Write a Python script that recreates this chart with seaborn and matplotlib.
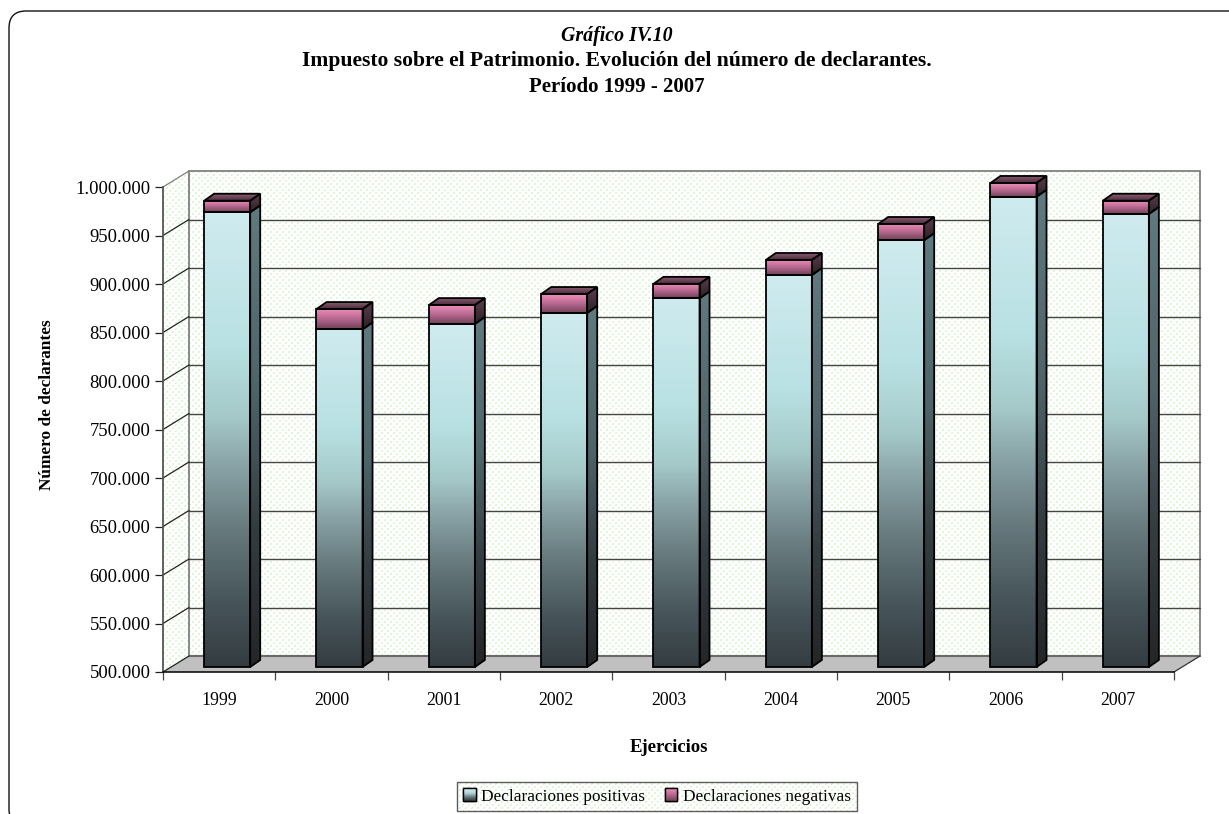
import numpy as np
import pandas as pd
import seaborn as sns
import matplotlib
matplotlib.use("Agg")
import matplotlib.pyplot as plt
from matplotlib.colors import LinearSegmentedColormap as LSC
from matplotlib.patches import FancyBboxPatch, Polygon, Patch
from matplotlib.transforms import Affine2D, IdentityTransform

titulo = "Gráfico IV.10"
subtitulo = "Impuesto sobre el Patrimonio. Evolución del número de declarantes."
periodo = "Período 1999 - 2007"
ejercicios = ["1999", "2000", "2001", "2002", "2003", "2004", "2005", "2006", "2007"]
positivas = [968700, 848000, 853600, 865000, 880000, 904000, 940000, 984800, 967000]
negativas = [12000, 21000, 19500, 19500, 15000, 15600, 16700, 14200, 13700]
y_ticks = [500000, 550000, 600000, 650000, 700000, 750000, 800000, 850000, 900000, 950000, 1000000]
y_labels = ["500.000", "550.000", "600.000", "650.000", "700.000", "750.000", "800.000",
            "850.000", "900.000", "950.000", "1.000.000"]
base = 500000

W, H = 1229, 814
sns.set_theme(style="ticks")
plt.rcParams["font.family"] = ["Liberation Serif", "DejaVu Serif"]
fig = plt.figure(figsize=(W / 100, H / 100), dpi=100, facecolor="white")
L, R, T, B = 163, 1174, 187, 672
ax = fig.add_axes([L / W, (H - B) / H, (R - L) / W, (B - T) / H])
ax.patch.set_visible(False)

df = pd.DataFrame({"ejercicio": ejercicios, "pos": positivas, "neg": negativas})
df["alto"] = df["pos"] - base

WALL = (26, 16)      # fondo respecto al plano frontal (px)
FRONT = (8, 5)       # cara frontal de la barra
DEPTH = (10, 7)      # profundidad de la barra
EDGE = 1.3

def shifted(d):
    return ax.transData + Affine2D().translate(*d)

def clip_to(im, verts):
    im.set_clip_box(fig.bbox)
    im.set_clip_path(Polygon(verts, closed=True, transform=IdentityTransform()))
    return im

def gradient_poly(verts, cmap, z):
    verts = np.asarray(verts, float)
    x0, y0 = verts.min(0)
    x1, y1 = verts.max(0)
    g = np.linspace(0, 1, 256).reshape(-1, 1)
    im = ax.imshow(g, extent=[x0, x1, y0, y1], origin="lower", cmap=cmap, vmin=0, vmax=1,
                   aspect="auto", transform=IdentityTransform(), zorder=z, interpolation="bilinear")
    return clip_to(im, verts)

def texture_poly(verts, z):
    verts = np.asarray(verts, float)
    x0, y0 = np.floor(verts.min(0))
    x1, y1 = np.ceil(verts.max(0))
    tile = np.ones((6, 6, 3))
    soft = (0.93, 0.98, 0.91)
    dot = (0.83, 0.95, 0.79)
    for (r, c) in [(0, 0), (3, 3)]:
        tile[r, c] = dot
        tile[(r + 1) % 6, c] = soft
        tile[r, (c + 1) % 6] = soft
        tile[(r + 1) % 6, (c + 1) % 6] = dot
    nx, ny = int(x1 - x0), int(y1 - y0)
    tx = np.tile(tile, (ny // 6 + 1, nx // 6 + 1, 1))[:ny, :nx]
    im = ax.imshow(tx, extent=[x0, x1, y0, y1], origin="lower", aspect="auto",
                   transform=IdentityTransform(), zorder=z, interpolation="nearest")
    return clip_to(im, verts)

face_pos = LSC.from_list("fp", [(0, "#343c41"), (.14, "#465459"), (.3, "#66797d"), (.45, "#8ba5a8"),
                                (.55, "#a5c9c9"), (.7, "#b8e0e2"), (1, "#cfebf0")])
side_pos = LSC.from_list("sp", [(0, "#242627"), (.3, "#333d40"), (.6, "#4e6468"), (1, "#5f7a80")])
face_neg = LSC.from_list("fn", [(0, "#6f4258"), (.5, "#b8688f"), (1, "#f090bc")])
side_neg = LSC.from_list("sn", [(0, "#2c2026"), (1, "#5c3f4e")])
top_neg = LSC.from_list("tn", [(0, "#4a2f3c"), (1, "#8a5870")])

# Marcas: barras apiladas dibujadas por seaborn
sns.barplot(data=df, x="ejercicio", y="alto", bottom=base, width=0.41, color="black", fill=False,
            linewidth=EDGE, errorbar=None, ax=ax, zorder=6)
n_pos = len(ax.patches)
sns.barplot(data=df, x="ejercicio", y="neg", bottom=df["pos"].to_numpy(), width=0.41, color="black",
            fill=False, linewidth=EDGE, errorbar=None, ax=ax, zorder=6)
ax.set_xlim(-0.5, 8.5)
ax.set_ylim(500000, 1000000)

def px(x, y, d=(0, 0)):
    p = ax.transData.transform((x, y))
    return (p[0] + d[0], p[1] + d[1])

# Paredes y suelo
xa, xb = -0.5, 8.5
back = [px(xa, base, WALL), px(xb, base, WALL), px(xb, 1e6, WALL), px(xa, 1e6, WALL)]
side = [px(xa, base), px(xa, base, WALL), px(xa, 1e6, WALL), px(xa, 1e6)]
floor = [px(xa, base), px(xb, base), px(xb, base, WALL), px(xa, base, WALL)]
texture_poly(back, 0.5)
texture_poly(side, 0.5)
ax.add_patch(Polygon(floor, closed=True, transform=IdentityTransform(), facecolor="#c0c0c0",
                     edgecolor="none", zorder=0.6, clip_on=False))
ax.add_patch(Polygon(back, closed=True, transform=IdentityTransform(), facecolor="none",
                     edgecolor="#808080", linewidth=1.3, zorder=0.8, clip_on=False))
ax.plot([xa, xb], [base, base], transform=shifted(WALL), color="#6a6a6a", lw=1.5, zorder=0.8, clip_on=False)
for v in y_ticks:
    if base < v < 1e6:
        ax.plot([xa, xb], [v, v], transform=shifted(WALL), color="#454545", lw=1.0, zorder=1, clip_on=False)
    p, q = px(xa, v), px(xa, v, WALL)
    ax.plot([p[0], q[0]], [p[1], q[1]], transform=IdentityTransform(),
            color="#222222" if v < 1e6 else "#808080", lw=0.9, zorder=1, clip_on=False)
q0, q1 = px(xb, base), px(xb, base, WALL)
ax.plot([q0[0], q1[0]], [q0[1], q1[1]], transform=IdentityTransform(), color="#333333", lw=0.9, zorder=1, clip_on=False)

# Caras con degradado
def dress(patch, cface, cside, top=None):
    x0, y0, w, h = patch.get_x(), patch.get_y(), patch.get_width(), patch.get_height()
    x1, y1 = x0 + w, y0 + h
    patch.set_transform(shifted(FRONT))
    patch.set_clip_on(False)
    f = [px(x0, y0, FRONT), px(x1, y0, FRONT), px(x1, y1, FRONT), px(x0, y1, FRONT)]
    d2 = (FRONT[0] + DEPTH[0], FRONT[1] + DEPTH[1])
    s = [px(x1, y0, FRONT), px(x1, y0, d2), px(x1, y1, d2), px(x1, y1, FRONT)]
    gradient_poly(f, cface, 5)
    gradient_poly(s, cside, 5)
    ax.add_patch(Polygon(s, closed=True, transform=IdentityTransform(), facecolor="none",
                         edgecolor="black", linewidth=EDGE, zorder=6, clip_on=False))
    if top is not None:
        t = [px(x0, y1, FRONT), px(x1, y1, FRONT), px(x1, y1, d2), px(x0, y1, d2)]
        gradient_poly(t, top, 5)
        ax.add_patch(Polygon(t, closed=True, transform=IdentityTransform(), facecolor="none",
                             edgecolor="black", linewidth=EDGE, zorder=6, clip_on=False))

bars = list(ax.patches[:n_pos + 9])
for b in bars[:n_pos]:
    dress(b, face_pos, side_pos)
for b in bars[n_pos:]:
    dress(b, face_neg, side_neg, top_neg)

# Ejes
sns.despine(ax=ax)
ax.spines["left"].set(color="#555555", linewidth=1.3)
ax.spines["bottom"].set(color="black", linewidth=1.1)
ax.set_yticks(y_ticks, y_labels)
ax.set_xticks(range(9), ejercicios)
ax.set_xticks(np.arange(-0.5, 9, 1), minor=True)
ax.tick_params(axis="x", which="major", length=0, pad=14.5, labelsize=12.8, colors="black")
ax.tick_params(axis="x", which="minor", length=6, width=0.9, color="#444444")
ax.tick_params(axis="y", length=6, width=0.9, color="#222222", pad=3, labelsize=13.4, labelcolor="black")
ax.set_xlabel("Ejercicios", fontweight="bold", fontsize=13.5, color="black")
ax.xaxis.set_label_coords(0.5, -(747 - B) / (B - T), transform=ax.transAxes)
ax.xaxis.label.set_va("center")
ax.set_ylabel("Número de declarantes", fontweight="bold", fontsize=12.4, color="black")
ax.yaxis.set_label_coords(-(L - 47) / (R - L), (B - 405) / (B - T), transform=ax.transAxes)
ax.yaxis.label.set_va("center")

# Títulos
fig.text(617 / W, 1 - 36 / H, titulo, ha="center", va="center", style="italic", fontweight="bold",
         fontsize=14.3, color="black")
fig.text(617 / W, 1 - 61 / H, subtitulo, ha="center", va="center", fontweight="bold", fontsize=15.6, color="black")
fig.text(617 / W, 1 - 87 / H, periodo, ha="center", va="center", fontweight="bold", fontsize=15, color="black")

# Marco exterior
frame = FancyBboxPatch((9, -12), 1300, 815, boxstyle="round,pad=0,rounding_size=17",
                       transform=IdentityTransform(), facecolor="none", edgecolor="#111111",
                       linewidth=1.0)
fig.add_artist(frame)

# Leyenda
handles = [Patch(facecolor="#8fb5bb", edgecolor="black", label="Declaraciones positivas"),
           Patch(facecolor="#c06a98", edgecolor="black", label="Declaraciones negativas")]
leg = ax.legend(handles=handles, ncol=2, loc="center", bbox_to_anchor=(657 / W, 1 - 796.5 / H),
                bbox_transform=fig.transFigure, frameon=True, fancybox=False, facecolor="none",
                edgecolor="#333333", framealpha=None, fontsize=12.4, handlelength=0.7, handleheight=0.7,
                handletextpad=0.3, columnspacing=1.2, labelcolor="black", borderpad=0.4, borderaxespad=0)
leg.get_frame().set_linewidth(1.0)
leg.set_zorder(20)
fig.canvas.draw()
bb = leg.get_frame().get_window_extent()
texture_poly([(bb.x0, bb.y0), (bb.x1, bb.y0), (bb.x1, bb.y1), (bb.x0, bb.y1)], 19)
for h, cm in zip(leg.get_patches(), [face_pos, face_neg]):
    e = h.get_window_extent()
    vs = [(e.x0, e.y0), (e.x1, e.y0), (e.x1, e.y1), (e.x0, e.y1)]
    gradient_poly(vs, cm, 21)
    ax.add_patch(Polygon(vs, closed=True, transform=IdentityTransform(), facecolor="none",
                         edgecolor="black", linewidth=1.0, zorder=22, clip_on=False))
ax.set_xlim(-0.5, 8.5)
ax.set_ylim(500000, 1000000)
fig.savefig("out.png", dpi=100)
